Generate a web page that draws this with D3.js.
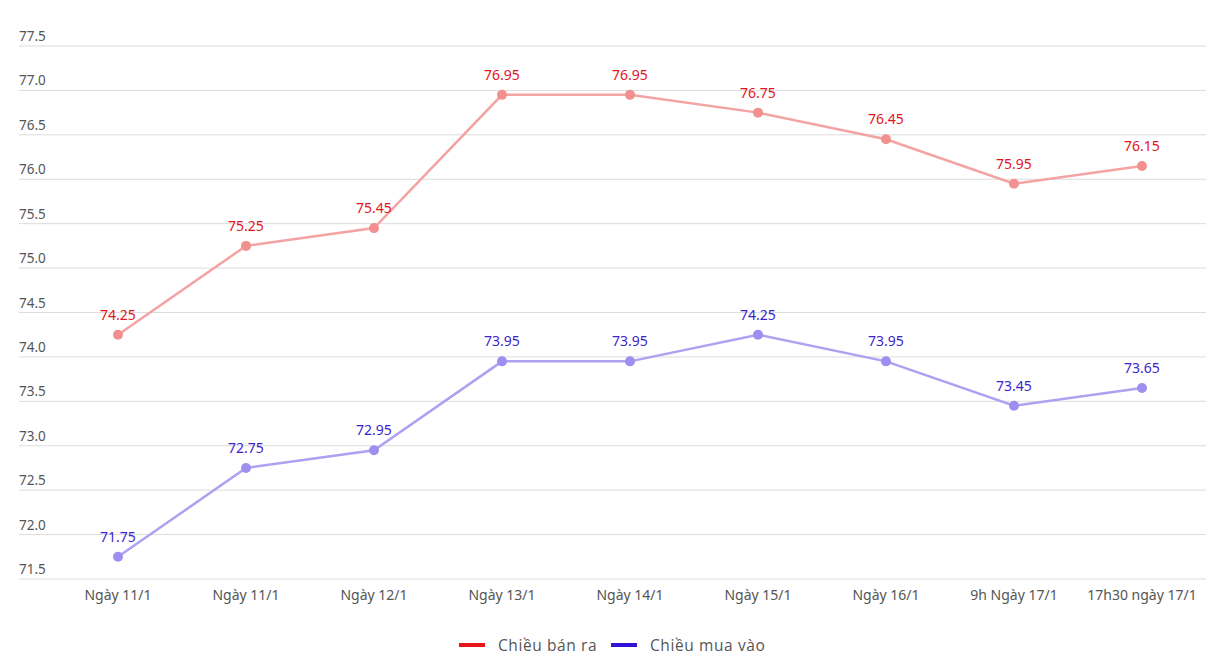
<!DOCTYPE html>
<html><head><meta charset="utf-8">
<script src="https://cdn.jsdelivr.net/npm/d3@7"></script>
<style>body{margin:0;background:#fff;}svg{display:block;}</style>
</head><body>
<svg id="c" width="1206" height="662"></svg>
<script>
const categories = ["Ngày 11/1","Ngày 11/1","Ngày 12/1","Ngày 13/1","Ngày 14/1","Ngày 15/1","Ngày 16/1","9h Ngày 17/1","17h30 ngày 17/1"];
const sellValues = [74.25,75.25,75.45,76.95,76.95,76.75,76.45,75.95,76.15];
const buyValues = [71.75,72.75,72.95,73.95,73.95,74.25,73.95,73.45,73.65];
const yTicks = [71.5,72.0,72.5,73.0,73.5,74.0,74.5,75.0,75.5,76.0,76.5,77.0,77.5];
const seriesNames = ["Chiều bán ra","Chiều mua vào"];

const svg = d3.select("#c");
const font = "'Noto Sans', 'Open Sans', sans-serif";
const x = d3.scaleBand().domain(d3.range(categories.length)).range([54,1206]);
const y = d3.scaleLinear().domain([71.5,77.5]).range([579,46]);

const grid = svg.append("g");
yTicks.forEach(t=>{
  grid.append("line").attr("x1",19).attr("x2",1206).attr("y1",y(t)).attr("y2",y(t))
    .attr("stroke","#dcdcdc").attr("stroke-width",1);
  grid.append("text").attr("x",19).attr("y",y(t)-5).text(t.toFixed(1))
    .attr("font-family",font).attr("font-size",13.5).attr("fill","#555");
});

categories.forEach((c,i)=>{
  svg.append("text").attr("x",x(i)+x.bandwidth()/2).attr("y",600).attr("text-anchor","middle")
    .text(c).attr("font-family",font).attr("font-size",14).attr("fill","#555");
});

const series = [
  {vals:sellValues, line:"#f4a3a3", dot:"#f29090", label:"#e3141b"},
  {vals:buyValues, line:"#aea1f2", dot:"#9f8ef0", label:"#3d1fcf"}
];
const line = d3.line().x((d,i)=>x(i)+x.bandwidth()/2).y(d=>y(d));
series.forEach(s=>{
  svg.append("path").attr("d",line(s.vals)).attr("fill","none").attr("stroke",s.line).attr("stroke-width",2.5);
  s.vals.forEach((v,i)=>{
    svg.append("circle").attr("cx",x(i)+x.bandwidth()/2).attr("cy",y(v)).attr("r",5).attr("fill",s.dot);
    svg.append("text").attr("x",x(i)+x.bandwidth()/2).attr("y",y(v)-15).attr("text-anchor","middle")
      .text(v.toFixed(2)).attr("font-family",font).attr("font-size",14).attr("fill",s.label);
  });
});

const legendFont = "'Open Sans', Lato, sans-serif";
const lg = [{x:459, c:"#e8161b", t:seriesNames[0]},{x:611, c:"#3312d8", t:seriesNames[1]}];
lg.forEach(l=>{
  svg.append("rect").attr("x",l.x).attr("y",643).attr("width",26).attr("height",4).attr("fill",l.c);
  svg.append("text").attr("x",l.x+39).attr("y",651).text(l.t)
    .attr("font-family",legendFont).attr("font-size",15.5).attr("letter-spacing",0.6).attr("fill","#555");
});
</script>
</body></html>
